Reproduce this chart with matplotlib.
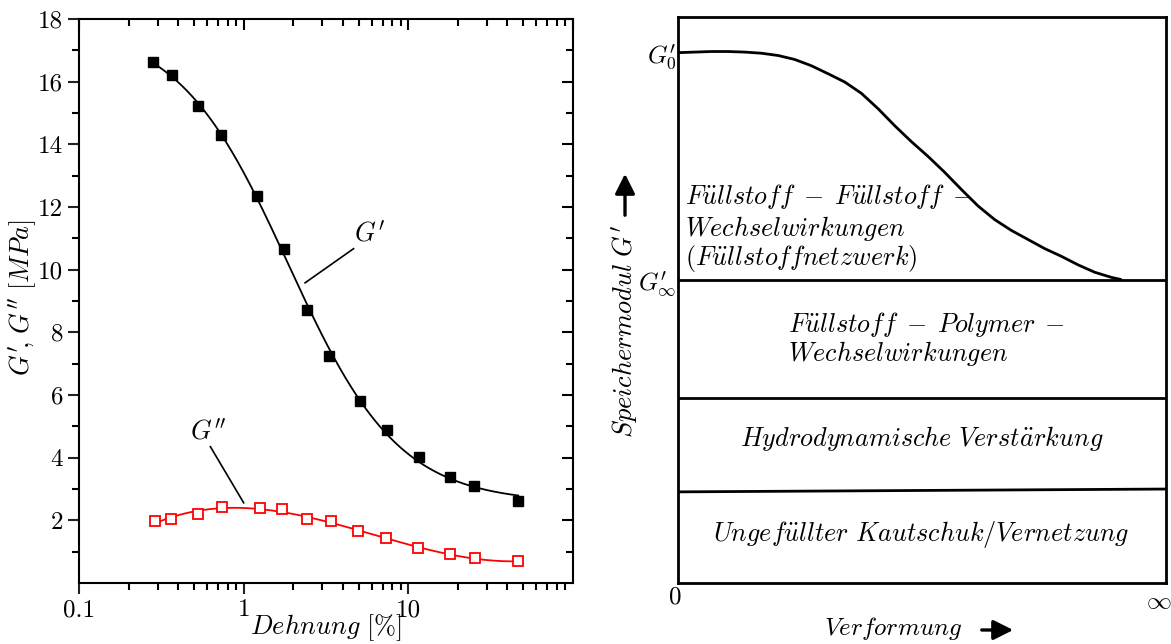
import numpy as np
import matplotlib
matplotlib.use("Agg")
import matplotlib.pyplot as plt
from matplotlib.ticker import FixedLocator, NullFormatter
from matplotlib.patches import FancyArrowPatch

plt.rcParams['mathtext.fontset'] = 'cm'
plt.rcParams['font.family'] = ['cmr10', 'DejaVu Serif']
plt.rcParams['axes.formatter.use_mathtext'] = True

# ---- left panel data ----
strain = [0.281, 0.365, 0.529, 0.733, 1.21, 1.75, 2.43, 3.30, 5.09, 7.41, 11.6, 17.9, 25.2, 46.5]
g_storage = [16.62, 16.22, 15.21, 14.29, 12.34, 10.67, 8.72, 7.25, 5.82, 4.88, 4.01, 3.38, 3.11, 2.61]
strain2 = [0.288, 0.363, 0.529, 0.735, 1.25, 1.71, 2.44, 3.38, 4.96, 7.33, 11.5, 17.8, 25.3, 46.5]
g_loss = [1.97, 2.05, 2.21, 2.42, 2.38, 2.35, 2.04, 1.97, 1.65, 1.43, 1.11, 0.93, 0.79, 0.69]
y_ticks = [2, 4, 6, 8, 10, 12, 14, 16, 18]
x_tick_labels = ["0.1", "1", "10"]

# ---- right panel (schematic) data ----
curve_x = [0.0, 0.034, 0.068, 0.103, 0.137, 0.171, 0.205, 0.239, 0.273, 0.307, 0.342, 0.376,
           0.410, 0.444, 0.478, 0.512, 0.546, 0.581, 0.615, 0.649, 0.683, 0.717, 0.751,
           0.786, 0.820, 0.854, 0.888, 0.909]
curve_y = [0.937, 0.938, 0.939, 0.939, 0.938, 0.936, 0.932, 0.925, 0.914, 0.900, 0.885, 0.865,
           0.838, 0.808, 0.780, 0.754, 0.726, 0.695, 0.666, 0.642, 0.623, 0.607, 0.591,
           0.577, 0.562, 0.549, 0.540, 0.536]
level_g0 = 0.937
level_ginf = 0.536
level_hydro = 0.327
level_unfilled = [0.161, 0.166]


def kraus_storage_fit(x, y):
    x = np.asarray(x); y = np.asarray(y)
    best = None
    for gc in np.logspace(-1, 1.7, 220):
        for m in np.linspace(0.2, 1.6, 120):
            f = 1.0 / (1.0 + (x / gc) ** (2 * m))
            A = np.column_stack([1 - f, f])
            coef, *_ = np.linalg.lstsq(A, y, rcond=None)
            r = np.sum((A @ coef - y) ** 2)
            if best is None or r < best[0]:
                best = (r, gc, m, coef)
    _, gc, m, coef = best
    return lambda t: coef[0] * (1 - 1.0 / (1.0 + (t / gc) ** (2 * m))) + coef[1] / (1.0 + (t / gc) ** (2 * m))


fig = plt.figure(figsize=(11.71, 6.44), dpi=100)

# ================= left panel =================
ax = fig.add_axes([79/1171, 1-583/644, (573-79)/1171, (583-19)/644])
ax.set_xscale('log')
ax.set_xlim(0.1, 100)
ax.set_ylim(0, 18)

fit1 = kraus_storage_fit(strain, g_storage)
xs = np.logspace(np.log10(strain[0]), np.log10(strain[-1]), 300)
ax.plot(xs, fit1(xs), color='black', lw=1.3)
ax.plot(strain, g_storage, ls='none', marker='s', ms=6.5, mfc='black', mec='black')

lx2 = np.log10(strain2)
c2 = np.polyfit(lx2, g_loss, 3)
xs2 = np.linspace(lx2[0], lx2[-1], 300)
ax.plot(10**xs2, np.polyval(c2, xs2), color='#ff0000', lw=1.3)
ax.plot(strain2, g_loss, ls='none', marker='s', ms=6.5, mfc='white', mec='#ff0000', mew=1.3)

ax.plot([2.36, 4.65], [9.58, 10.67], color='black', lw=1.2)
ax.text(5.8, 11.16, r"$G'$", fontsize=19, ha='center', va='center')
ax.plot([0.628, 1.0], [4.35, 2.56], color='black', lw=1.2)
ax.text(0.61, 4.83, r"$G''$", fontsize=19, ha='center', va='center')

ax.set_yticks(y_ticks)
ax.set_yticklabels([str(v) for v in y_ticks])
ax.yaxis.set_minor_locator(FixedLocator([1, 3, 5, 7, 9, 11, 13, 15, 17]))
ax.set_xticks([0.1, 1, 10])
ax.set_xticklabels(x_tick_labels)
minors = [m * 10.0**e for e in (-1, 0, 1) for m in range(2, 10)]
ax.xaxis.set_minor_locator(FixedLocator(minors))
ax.xaxis.set_minor_formatter(NullFormatter())

for side in ax.spines.values():
    side.set_linewidth(1.5)
ax.tick_params(axis='both', which='major', labelsize=18, width=1.5, length=8, direction='out',
               top=False, right=False, colors='#222222', labelcolor='black')
ax.tick_params(axis='both', which='minor', width=1.5, length=5, direction='out', top=False, right=False)
axt = ax.secondary_xaxis('top')
axt.set_xticks([0.1, 1, 10, 100])
axt.xaxis.set_minor_locator(FixedLocator(minors))
axt.tick_params(which='major', direction='in', length=8, width=1.5, labeltop=False)
axt.tick_params(which='minor', direction='in', length=5, width=1.5)
axt.set_xticklabels([])
axt.xaxis.set_minor_formatter(NullFormatter())
axr = ax.secondary_yaxis('right')
axr.set_yticks(y_ticks)
axr.yaxis.set_minor_locator(FixedLocator([1, 3, 5, 7, 9, 11, 13, 15, 17]))
axr.tick_params(which='major', direction='in', length=8, width=1.5, labelright=False)
axr.tick_params(which='minor', direction='in', length=5, width=1.5)
axr.set_yticklabels([])
axr.spines['right'].set_visible(False)
axt.spines['top'].set_visible(False)

ax.set_xlabel(r"$Dehnung\ [\%]$", fontsize=19)
ax.xaxis.label.set_va('center')
ax.xaxis.set_label_coords(0.5, (583-628)/564)
ax.set_ylabel(r"$G'\!,\,G''\ [MPa]$", fontsize=19)
ax.yaxis.label.set_va('center')
ax.yaxis.set_label_coords((23-79)/494, (583-298)/564)

# ================= right panel =================
ax2 = fig.add_axes([678/1171, 1-583/644, (1166-678)/1171, (583-17)/644])
ax2.set_xlim(0, 1)
ax2.set_ylim(0, 1)
for side in ax2.spines.values():
    side.set_linewidth(2.0)
ax2.plot(curve_x, curve_y, color='black', lw=2.0, solid_capstyle='butt', solid_joinstyle='round')
ax2.axhline(level_ginf, color='black', lw=2.0)
ax2.axhline(level_hydro, color='black', lw=2.0)
ax2.plot([0, 1], level_unfilled, color='black', lw=2.0)

fs = 18.8
ax2.text(0.014, 0.682, r"$F\ddot{u}llstoff\;-\;F\ddot{u}llstoff\;-$", fontsize=fs, ha='left', va='center')
ax2.text(0.014, 0.627, r"$Wechselwirkungen$", fontsize=fs, ha='left', va='center')
ax2.text(0.014, 0.574, r"$(F\ddot{u}llstoffnetzwerk)$", fontsize=fs, ha='left', va='center')
ax2.text(0.225, 0.456, r"$F\ddot{u}llstoff\;-\;Polymer\;-$", fontsize=fs, ha='left', va='center')
ax2.text(0.225, 0.406, r"$Wechselwirkungen$", fontsize=fs, ha='left', va='center')
ax2.text(0.5, 0.256, r"$Hydrodynamische\ Verst\ddot{a}rkung$", fontsize=fs, ha='center', va='center')
ax2.text(0.498, 0.085, r"$Unge f\ddot{u}llter\ Kautschuk/Vernetzung$", fontsize=fs, ha='center', va='center')

ax2.set_yticks([level_g0, level_ginf])
ax2.set_yticklabels([r"$G^{\prime}_0$", r"$G^{\prime}_\infty$"])
ax2.set_xticks([])
ax2.tick_params(axis='both', length=0, labelsize=18, pad=1)
ax2.text(-0.006, -0.025, r"$0$", fontsize=18, ha='center', va='center', transform=ax2.transAxes)
ax2.text(0.986, -0.033, r"$\infty$", fontsize=18, ha='center', va='center', transform=ax2.transAxes)

fig.text(625/1171, 1-332/644, r"$Speichermodul\ G^{\prime}$", fontsize=19, rotation=90,
         ha='center', va='center')
fig.text(893/1171, 1-628/644, r"$Verformung$", fontsize=18, ha='center', va='center')
fig.patches.append(FancyArrowPatch((625/1171, 1-218/644), (625/1171, 1-171/644),
                   transform=fig.transFigure, arrowstyle='-|>,head_length=6,head_width=3',
                   lw=2.4, color='black', mutation_scale=2))
fig.patches.append(FancyArrowPatch((979/1171, 1-630/644), (1016/1171, 1-630/644),
                   transform=fig.transFigure, arrowstyle='-|>,head_length=6,head_width=3',
                   lw=2.4, color='black', mutation_scale=2))

fig.savefig("out.png", dpi=100)
